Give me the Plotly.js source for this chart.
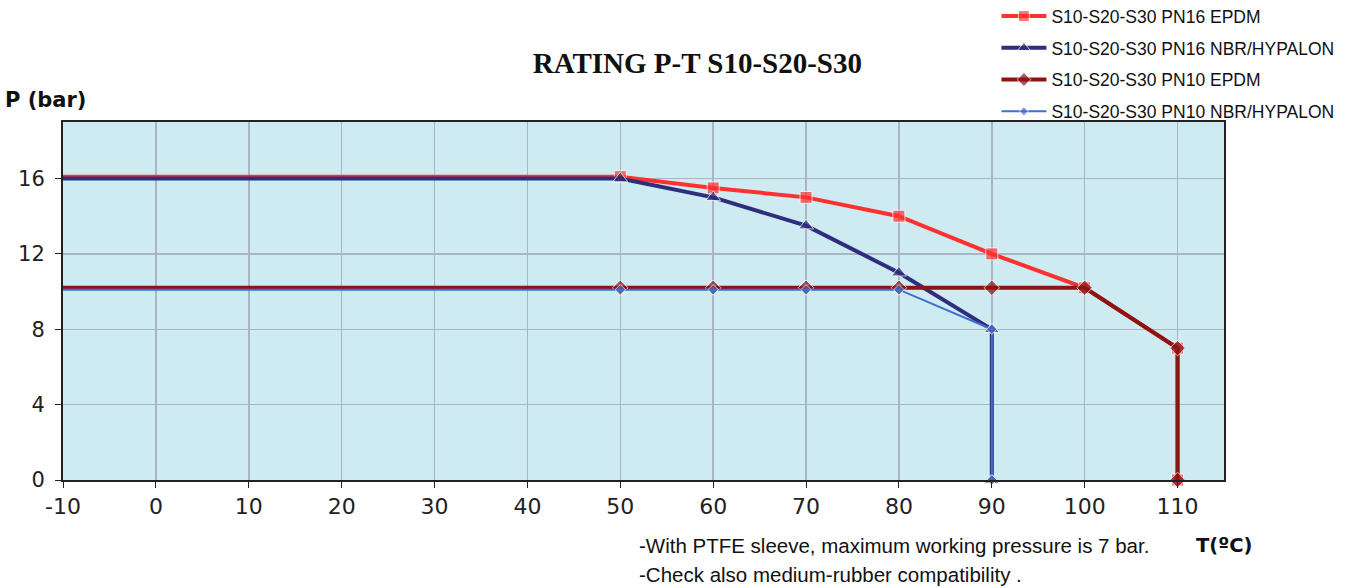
<!DOCTYPE html>
<html>
<head>
<meta charset="utf-8">
<script src="https://cdn.plot.ly/plotly-3.0.1.min.js"></script>
<style>html,body{margin:0;padding:0;background:#fff;}#chart{width:1362px;height:588px;}</style>
</head>
<body>
<div id="chart"></div>
<script>
// Data
const seriesNames = [
  "S10-S20-S30 PN16 EPDM",
  "S10-S20-S30 PN16 NBR/HYPALON",
  "S10-S20-S30 PN10 EPDM",
  "S10-S20-S30 PN10 NBR/HYPALON"
];
const pn16EpdmT = [-10, 50, 60, 70, 80, 90, 100, 110, 110];
const pn16EpdmP = [16.1, 16.1, 15.5, 15, 14, 12, 10.2, 7, 0];
const pn16NbrT = [-10, 50, 60, 70, 80, 90, 90];
const pn16NbrP = [16, 16, 15, 13.5, 11, 8, 0];
const pn10EpdmT = [-10, 50, 60, 70, 80, 90, 100, 110, 110];
const pn10EpdmP = [10.2, 10.2, 10.2, 10.2, 10.2, 10.2, 10.2, 7, 0];
const pn10NbrT = [-10, 50, 60, 70, 80, 90, 90];
const pn10NbrP = [10.1, 10.1, 10.1, 10.1, 10.1, 8, 0];
const xTicks = [-10, 0, 10, 20, 30, 40, 50, 60, 70, 80, 90, 100, 110];
const yTicks = [0, 4, 8, 12, 16];
const titleText = "RATING P-T S10-S20-S30";
const yLabel = "P (bar)";
const xLabel = "T(ºC)";
const notes = ["-With PTFE sleeve, maximum working pressure is 7 bar.", "-Check also medium-rubber compatibility ."];

function sizes(xs, s) { return xs.map(v => v < 0 ? 0 : s); }

const traces = [
  {x: pn16EpdmT, y: pn16EpdmP, name: seriesNames[0], legendgroup: "a",
   line: {color: "#FF3030", width: 4}, marker: {symbol: "square", size: sizes(pn16EpdmT, 12), color: "#FF3030"}},
  {x: pn16NbrT, y: pn16NbrP, name: seriesNames[1], legendgroup: "b",
   line: {color: "#2E2D7E", width: 4}, marker: {symbol: "triangle-up", size: sizes(pn16NbrT, 13), color: "#2E2D7E"}},
  {x: pn10EpdmT, y: pn10EpdmP, name: seriesNames[2], legendgroup: "c",
   line: {color: "#8B1414", width: 4}, marker: {symbol: "diamond", size: sizes(pn10EpdmT, 12), color: "#8B1414"}},
  {x: pn10NbrT, y: pn10NbrP, name: seriesNames[3], legendgroup: "d",
   line: {color: "#3F6FCF", width: 2}, marker: {symbol: "diamond", size: sizes(pn10NbrT, 8), color: "#3F6FCF"}}
].map(t => Object.assign({type: "scatter", mode: "lines+markers", cliponaxis: false}, t));

const layout = {
  width: 1362, height: 588,
  margin: {l: 63, r: 138, t: 122, b: 108, autoexpand: false},
  paper_bgcolor: "#ffffff",
  plot_bgcolor: "#CDEBF1",
  showlegend: true,
  legend: {
    x: 0.804, xanchor: "left", y: 1.346, yanchor: "top",
    font: {family: "Liberation Sans, Arial, sans-serif", size: 17.5, color: "#111"},
    itemwidth: 45, traceorder: "grouped", tracegroupgap: 6, bgcolor: "rgba(0,0,0,0)"
  },
  title: {
    text: "<b>" + titleText + "</b>",
    x: 0.512, xref: "container", xanchor: "center",
    y: 0.893, yref: "container", yanchor: "middle",
    font: {family: "Liberation Serif, Times New Roman, serif", size: 29, color: "#111"}
  },
  xaxis: {
    range: [-10, 115], tickvals: xTicks, ticktext: xTicks.map(String),
    showgrid: true, gridcolor: "#AAB4C6", gridwidth: 1.5,
    zeroline: false, showline: true, linecolor: "#222", linewidth: 2, mirror: true,
    ticks: "outside", ticklen: 6, tickcolor: "#222",
    tickfont: {family: "DejaVu Sans, Verdana, sans-serif", size: 22, color: "#222"}
  },
  yaxis: {
    range: [0, 19], tickvals: yTicks, ticktext: yTicks.map(String),
    showgrid: true, gridcolor: "#AAB4C6", gridwidth: 1.5,
    zeroline: false, showline: true, linecolor: "#222", linewidth: 2, mirror: true,
    ticks: "outside", ticklen: 6, tickcolor: "#222", ticklabelstandoff: 6,
    tickfont: {family: "DejaVu Sans, Verdana, sans-serif", size: 21, color: "#222"}
  },
  annotations: [
    {text: "<b>" + yLabel + "</b>", xref: "paper", yref: "paper", x: -0.052, y: 1.061,
     xanchor: "left", yanchor: "middle", showarrow: false,
     font: {family: "DejaVu Sans, Verdana, sans-serif", size: 21, color: "#111"}},
    {text: "<b>" + xLabel + "</b>", xref: "paper", yref: "paper", x: 1.0, y: -0.182,
     xanchor: "center", yanchor: "middle", showarrow: false,
     font: {family: "DejaVu Sans, Verdana, sans-serif", size: 19.5, color: "#111"}},
    {text: notes[0], xref: "paper", yref: "paper", x: 0.494, y: -0.184,
     xanchor: "left", yanchor: "middle", showarrow: false,
     font: {family: "Liberation Sans, Arial, sans-serif", size: 20.5, color: "#111"}},
    {text: notes[1], xref: "paper", yref: "paper", x: 0.494, y: -0.263,
     xanchor: "left", yanchor: "middle", showarrow: false,
     font: {family: "Liberation Sans, Arial, sans-serif", size: 20.5, color: "#111"}}
  ]
};

Plotly.newPlot("chart", traces, layout, {displayModeBar: false, staticPlot: true});
</script>
</body>
</html>
